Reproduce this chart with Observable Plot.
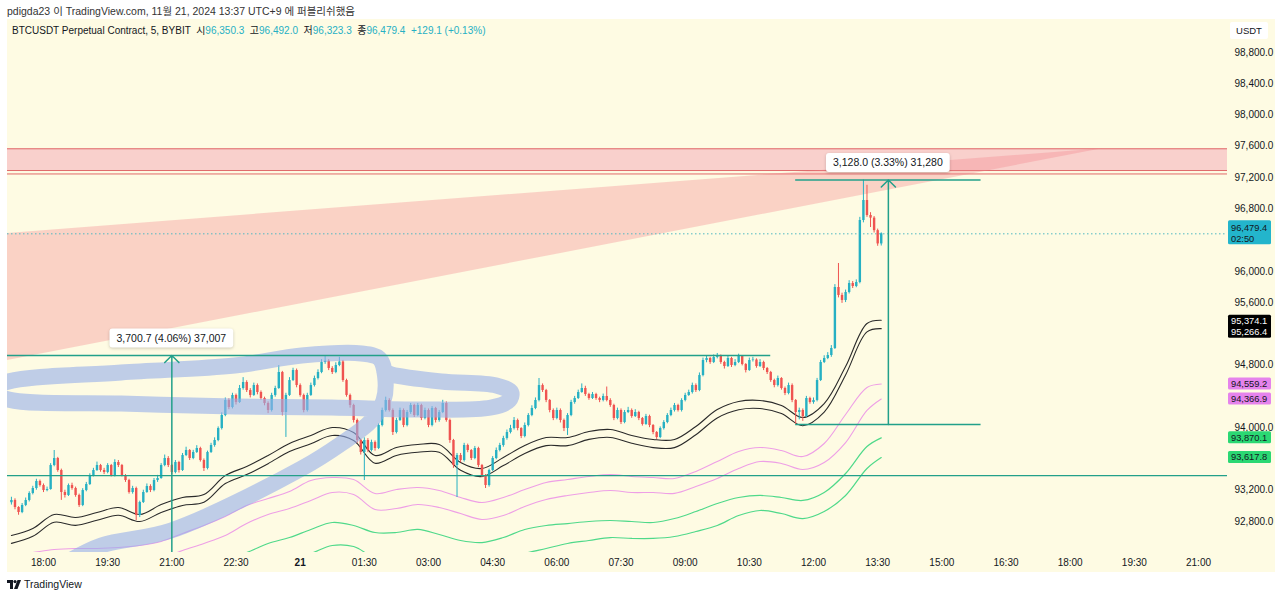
<!DOCTYPE html>
<html><head><meta charset="utf-8">
<script src="https://cdn.jsdelivr.net/npm/d3@7"></script>
<script src="https://cdn.jsdelivr.net/npm/@observablehq/plot@0.6"></script>
<style>
html,body{margin:0;padding:0;background:#fff;width:1280px;height:597px;overflow:hidden;font-family:"Liberation Sans","Noto Sans CJK KR",sans-serif;}
#wrap{position:relative;width:1280px;height:597px;}
#hdr{position:absolute;left:7px;top:3px;font-size:10.5px;color:#333;white-space:pre;}
#panel{position:absolute;left:7px;top:19px;width:1268px;height:553px;background:#fefbe3;}
#chart{position:absolute;left:0;top:19px;}
#legend{position:absolute;left:12px;top:22px;font-size:10px;color:#131722;white-space:pre;}
#legend .v{color:#26b0c3;}
#usdt{position:absolute;left:1230px;top:22px;width:38px;height:17px;background:#fff;border-radius:2px;font-size:9.5px;color:#131722;text-align:center;line-height:17px;}
#footer{position:absolute;left:7px;top:578px;font-size:10.5px;color:#131722;display:flex;align-items:center;gap:3px;}
</style></head>
<body><div id="wrap">
<div id="hdr">pdigda23 이 TradingView.com, 11월 21, 2024 13:37 UTC+9 에 퍼블리쉬했음</div>
<div id="panel"></div>
<div id="chart"></div>
<div id="legend"></div>
<div id="usdt">USDT</div>
<div id="footer"><svg width="14" height="9" viewBox="0 0 14 9"><path d="M0 0h6v9H3V3H0z" fill="#131722"/><circle cx="8" cy="1.6" r="1.6" fill="#131722"/><path d="M10.5 0H14l-3.5 9H7z" fill="#131722"/></svg><span>TradingView</span></div>
</div>
<script>
// ---------- data ----------
const symbolName = "BTCUSDT Perpetual Contract, 5, BYBIT";
const ohlcLabels = ["시", "고", "저", "종"];
const countdown = "02:50";
const candleStart = Date.UTC(2024, 10, 20, 17, 15);
const firstOpen = 93040;
const closes = [
93069,92979,92915,93005,93069,93158,93222,93312,93260,93196,
93209,93516,93606,93452,93171,93133,93260,93222,93133,93005,
93196,93273,93388,93452,93516,93452,93427,93516,93388,93555,
93516,93388,93324,93171,93222,92877,93043,93171,93248,93196,
93324,93350,93516,93606,93516,93427,93555,93452,93644,93708,
93606,93683,93734,93580,93478,93683,93772,93836,93989,94156,
94348,94258,94412,94322,94501,94578,94475,94412,94539,94450,
94373,94309,94220,94412,94501,94706,94194,94412,94603,94731,
94539,94412,94220,94412,94539,94629,94706,94834,94850,94757,
94706,94795,94840,94603,94412,94284,94092,93836,93683,93836,
93708,93810,93734,94028,94220,94348,94220,93938,94092,94220,
94028,94194,94284,94156,94284,94117,94220,94028,94245,94092,
94194,94309,94092,93836,93516,93644,93580,93772,93708,93606,
93734,93516,93388,93260,93452,93606,93708,93772,93862,93938,
93989,94092,93989,93887,94028,94156,94245,94348,94539,94475,
94348,94220,94117,94220,94092,93989,94156,94322,94373,94450,
94501,94424,94373,94424,94373,94348,94399,94348,94284,94117,
94220,94066,94194,94220,94143,94194,94117,94041,94143,94028,
93938,93874,93989,94066,94156,94220,94284,94220,94348,94412,
94450,94539,94475,94667,94859,94885,94834,94898,94910,94834,
94782,94885,94795,94834,94910,94808,94731,94859,94865,94782,
94834,94757,94706,94603,94539,94629,94501,94437,94539,94348,
94194,94220,94143,94373,94322,94348,94603,94834,94885,94923,
95013,95793,95691,95627,95729,95844,95806,95857,96650,96906,
96714,96680,96520,96350.3,96479.4];
const highs = [
93110,93090,92990,93030,93100,93180,93250,93340,93330,93280,
93240,93540,93708,93620,93470,93200,93280,93290,93240,93150,
93220,93300,93410,93480,93560,93530,93480,93540,93530,93590,
93580,93530,93400,93340,93250,93240,93060,93200,93280,93270,
93350,93390,93540,93650,93630,93530,93580,93570,93670,93750,
93720,93710,93770,93750,93600,93700,93800,93870,94010,94190,
94380,94370,94440,94430,94540,94640,94600,94500,94570,94560,
94470,94390,94330,94440,94530,94795,94720,94440,94640,94760,
94750,94560,94430,94440,94570,94660,94740,94870,94920,94870,
94780,94830,94900,94860,94620,94430,94300,94110,93850,93870,
93860,93840,93830,94050,94250,94390,94370,94240,94120,94250,
94240,94220,94310,94300,94310,94300,94250,94240,94270,94260,
94220,94350,94330,94110,93850,93670,93670,93800,93790,93720,
93760,93750,93530,93400,93470,93630,93740,93800,93890,93970,
94030,94130,94110,94000,94060,94180,94280,94380,94629,94560,
94490,94360,94240,94250,94240,94110,94180,94350,94400,94480,
94560,94530,94440,94450,94440,94390,94430,94520,94370,94300,
94250,94240,94220,94260,94240,94230,94210,94130,94170,94160,
94040,93950,94010,94090,94180,94250,94310,94300,94370,94440,
94480,94570,94560,94700,94890,94920,94900,94930,94949,94930,
94850,94910,94900,94870,94940,94920,94820,94890,94900,94880,
94870,94850,94770,94720,94620,94660,94640,94520,94570,94560,
94360,94250,94240,94400,94390,94380,94630,94860,94920,94960,
95050,95830,96100,95720,95760,95880,95870,95890,96690,97168,
97100,96750,96700,96540,96492.0];
const lows = [
93010,92950,92880,92900,92990,93050,93140,93200,93240,93170,
93180,93200,93500,93430,93070,93100,93120,93200,93110,92980,
92990,93180,93260,93370,93440,93430,93400,93410,93370,93370,
93490,93370,93300,93150,93150,92813,92850,93030,93160,93170,
93180,93300,93340,93500,93490,93400,93410,93420,93440,93630,
93580,93590,93670,93560,93440,93460,93670,93750,93820,93970,
94140,94230,94240,94290,94310,94480,94450,94380,94400,94420,
94350,94280,94180,94200,94390,94490,94150,93875,94400,94590,
94510,94390,94190,94200,94400,94520,94610,94690,94810,94730,
94680,94690,94780,94580,94390,94250,94060,93800,93650,93324,
93680,93690,93700,93720,94010,94200,94200,93900,93920,94080,
94000,94010,94170,94130,94140,94090,94100,94000,94010,94060,
94070,94180,94070,93800,93480,93107,93550,93560,93680,93580,
93590,93490,93360,93222,93240,93440,93590,93690,93750,93840,
93920,93970,93960,93860,93870,94010,94140,94230,94330,94450,
94320,94190,94090,94100,94060,93950,93900,94140,94300,94360,
94440,94400,94350,94360,94350,94320,94330,94330,94260,94090,
94100,94040,94050,94180,94120,94130,94090,94020,94030,94000,
93910,93850,93860,93970,94050,94140,94200,94200,94200,94330,
94400,94430,94450,94460,94650,94830,94810,94820,94880,94810,
94750,94770,94770,94780,94820,94790,94700,94720,94840,94760,
94770,94730,94680,94580,94510,94520,94480,94410,94420,94320,
94040,94100,94080,94130,94300,94300,94330,94590,94820,94870,
94900,95000,95660,95590,95600,95710,95780,95790,95840,96620,
96690,96560,96490,96320,96323.3];

// indicator bands sampled every 30 min from 17:15, last at 13:35
const bandStart = Date.UTC(2024, 10, 20, 17, 15);
const bandLast = "2024-11-21T13:35Z";
const blackUpper = [92621,92710,92890,92851,92915,92979,92890,93017,93107,93145,93388,93503,93644,93798,93900,94002,93938,93644,93746,93785,93785,93555,93478,93619,93772,93874,93874,93951,93977,93900,93849,93849,94015,94232,94335,94348,94284,94130,94309,94782,95332,95374.1];
const blackLower = [92520,92610,92790,92750,92815,92880,92800,92915,93005,93045,93285,93400,93540,93695,93795,93900,93835,93545,93645,93685,93685,93455,93375,93515,93670,93770,93770,93850,93875,93800,93745,93745,93910,94125,94230,94245,94180,94025,94200,94675,95225,95266.4];
const pinkUpper = [92365,92404,92442,92455,92455,92467,92493,92544,92647,92749,92864,93005,93094,93184,93324,93363,93337,93158,93209,93235,93196,93107,93043,93107,93209,93299,93337,93376,93401,93376,93363,93350,93440,93567,93695,93746,93708,93631,93798,94169,94514,94559.2];
const pinkLower = [92109,92148,92199,92224,92224,92237,92263,92327,92429,92519,92621,92774,92890,92966,93069,93171,93145,92953,92966,93017,92979,92902,92826,92877,92992,93081,93133,93171,93196,93171,93171,93160,93248,93350,93478,93567,93542,93465,93555,93810,94220,94366.9];
const greenUpper = [91790,91854,91917,91981,92045,92071,92109,92173,92224,92263,92327,92404,92519,92595,92698,92787,92749,92659,92659,92698,92634,92557,92531,92595,92698,92749,92774,92800,92813,92800,92787,92838,92928,93030,93107,93133,93107,93069,93171,93414,93759,93870.1];
const greenLower = [91534,91598,91662,91726,91790,91815,91854,91917,91981,92045,92109,92173,92237,92301,92391,92493,92480,92340,92352,92391,92391,92301,92263,92301,92391,92455,92519,92557,92595,92583,92583,92608,92672,92749,92877,92941,92902,92838,92928,93133,93478,93617.8];

// hand-drawn brush stroke (time, price)
const brushTimes = ["2024-11-20T18:25Z","2024-11-20T19:21Z","2024-11-20T20:59Z","2024-11-21T00:02Z","2024-11-21T00:58Z","2024-11-21T01:40Z","2024-11-21T01:57Z","2024-11-21T01:59Z","2024-11-21T01:51Z","2024-11-21T01:26Z","2024-11-21T00:02Z","2024-11-20T22:28Z","2024-11-20T19:49Z","2024-11-20T17:11Z","2024-11-20T16:47Z","2024-11-20T17:11Z","2024-11-20T19:49Z","2024-11-20T22:28Z","2024-11-21T00:44Z","2024-11-21T02:50Z","2024-11-21T04:28Z","2024-11-21T04:53Z","2024-11-21T04:56Z","2024-11-21T04:35Z","2024-11-21T03:18Z","2024-11-21T02:08Z","2024-11-21T01:58Z"];
const brushPrices = [92237,92493,92685,93478,93798,94092,94348,94667,94885,94949,94923,94795,94706,94591,94475,94360,94309,94271,94258,94232,94258,94348,94450,94539,94591,94680,94720];

// zone + wedge
const zoneTop = 97567, zoneBottom = 97289, zoneExtraLine = 97245;
const wedgeTimes = ["2024-11-20T17:09:30Z", "2024-11-21T18:45Z"];
const wedgeHigh = [96484, 97567];
const wedgeLow = [94859, 97567];

// measure tools & levels
const measureTimes = ["2024-11-20T21:00Z", "2024-11-21T13:45Z"];
const measureLow = [91222.3, 94040];
const measureHigh = [94923, 97168];
const measureStart = ["2024-11-20T17:09:30Z", "2024-11-21T11:35Z"];
const measureEnd = ["2024-11-21T11:00Z", "2024-11-21T15:55Z"];
const supportLevel = 93388;

// axes (labels hidden behind price-scale badges are left out)
const xTicks = ["2024-11-20T18:00Z","2024-11-20T19:30Z","2024-11-20T21:00Z","2024-11-20T22:30Z","2024-11-21T00:00Z","2024-11-21T01:30Z","2024-11-21T03:00Z","2024-11-21T04:30Z","2024-11-21T06:00Z","2024-11-21T07:30Z","2024-11-21T09:00Z","2024-11-21T10:30Z","2024-11-21T12:00Z","2024-11-21T13:30Z","2024-11-21T15:00Z","2024-11-21T16:30Z","2024-11-21T18:00Z","2024-11-21T19:30Z","2024-11-21T21:00Z"];
const yTicks = [92800,93200,94000,94800,95600,96000,96800,97200,97600,98000,98400,98800];
const xDomain = ["2024-11-20T17:09:30Z", "2024-11-21T21:40:40Z"];
const yDomain = [92403.5, 99220.6];

// ---------- build ----------
const UP = "#26b0c3", DOWN = "#ef5350", GREEN = "#22a08a";
const candles = closes.map((c, i) => ({
  t: new Date(candleStart + i * 300000),
  o: i ? closes[i - 1] : firstOpen, c, h: highs[i], l: lows[i]
}));
candles.forEach(d => d.col = d.c >= d.o ? UP : DOWN);
const bandTimes = d3.range(blackUpper.length - 1).map(k => new Date(bandStart + k * 1800000)).concat([new Date(bandLast)]);
const series = (arr) => arr.map((v, k) => ({t: bandTimes[k], v}));
const brush = brushTimes.map((t, k) => ({t: new Date(t), v: brushPrices[k]}));
const wedge = wedgeTimes.map((t, k) => ({t: new Date(t), lo: wedgeLow[k], hi: wedgeHigh[k]}));
const measures = measureTimes.map((t, k) => ({t: new Date(t), lo: measureLow[k], hi: measureHigh[k], s: new Date(measureStart[k]), e: new Date(measureEnd[k])}));
const X0 = new Date(xDomain[0]), X1 = new Date(xDomain[1]);
const fmt1 = d3.format(",.1f");
const fmtX = d => (d.getUTCHours() === 0 && d.getUTCMinutes() === 0) ? String(d.getUTCDate()) : d3.utcFormat("%H:%M")(d);
const last = candles[candles.length - 1];

const lineMark = (arr, stroke, w) => Plot.line(series(arr), {x: "t", y: "v", stroke, strokeWidth: w, curve: "catmull-rom", clip: true});

const chart = Plot.plot({
  width: 1280, height: 556,
  marginLeft: 7, marginRight: 53, marginTop: 0, marginBottom: 23,
  style: {background: "transparent", fontFamily: "Liberation Sans, Roboto, sans-serif", fontSize: "10px", color: "#131722"},
  x: {type: "utc", domain: [X0, X1], ticks: xTicks.map(d => new Date(d)), tickFormat: fmtX, tickSize: 0, tickPadding: 6, label: null},
  y: {domain: yDomain, axis: "right", ticks: yTicks, tickFormat: fmt1, tickSize: 0, tickPadding: 7, label: null},
  marks: [
    Plot.rect([{x1: X0, x2: X1, y1: zoneBottom, y2: zoneTop}], {x1: "x1", x2: "x2", y1: "y1", y2: "y2", fill: "#f9d0cc"}),
    Plot.ruleY([zoneTop, zoneBottom, zoneExtraLine], {stroke: "#e06a6a", strokeWidth: 1}),
    Plot.area(wedge, {x1: "t", y1: "lo", y2: "hi", fill: "#f3858e", fillOpacity: 0.34, clip: true}),
    Plot.ruleY([last.c], {stroke: "#4fb8c2", strokeWidth: 1, strokeDasharray: "1.5,2.5"}),
    lineMark(greenUpper, "#4fd98a", 1.2),
    lineMark(greenLower, "#4fd98a", 1.2),
    lineMark(pinkUpper, "#ee9fe6", 1.1),
    lineMark(pinkLower, "#ee9fe6", 1.1),
    lineMark(blackUpper, "#2a2a2a", 1.1),
    lineMark(blackLower, "#2a2a2a", 1.1),
    Plot.ruleX(candles, {x: "t", y1: "l", y2: "h", stroke: "col", strokeWidth: 1}),
    Plot.ruleX(candles, {x: "t", y1: "o", y2: "c", stroke: "col", strokeWidth: 2.4}),
    Plot.line(brush, {x: "t", y: "v", stroke: "#98b0ea", strokeOpacity: 0.62, strokeWidth: 16, strokeLinecap: "round", strokeLinejoin: "round", curve: "catmull-rom", clip: true}),
    Plot.ruleY(measures, {y: "hi", x1: "s", x2: "e", stroke: GREEN, strokeWidth: 1.5, clip: true}),
    Plot.ruleY(measures.slice(1), {y: "lo", x1: "s", x2: "e", stroke: GREEN, strokeWidth: 1.5, clip: true}),
    Plot.ruleY([supportLevel], {stroke: GREEN, strokeWidth: 1.2}),
    Plot.arrow(measures, {x1: "t", x2: "t", y1: "lo", y2: "hi", stroke: GREEN, strokeWidth: 1.5, headLength: 10, headAngle: 90, clip: true})
  ]
});
document.getElementById("chart").appendChild(chart);

// bold day label
d3.select(chart).selectAll("text").filter(function () { return this.textContent === "21"; }).attr("font-weight", "bold");

const xs = chart.scale("x"), ys = chart.scale("y");
const fx = xs.apply ? (v => xs.apply(v)) : d3.scaleUtc(xs.domain, xs.range);
const fy = ys.apply ? (v => ys.apply(v)) : d3.scaleLinear(ys.domain, ys.range);
const g = d3.select(chart).append("g").attr("font-family", "Liberation Sans, Roboto, sans-serif");

// measure labels
measures.forEach(m => {
  const diff = m.hi - m.lo;
  const label = `${fmt1(diff)} (${d3.format(".2f")(diff / m.lo * 100)}%) ${d3.format(",")(Math.round(diff * 10))}`;
  const cx = fx(m.t), cy = fy(m.hi) - 17;
  const r = g.append("rect").attr("fill", "#fff").attr("rx", 3).style("filter", "drop-shadow(0 1px 1.5px rgba(0,0,0,0.2))");
  const t = g.append("text").attr("x", cx).attr("y", cy).attr("dy", "0.35em").attr("text-anchor", "middle").attr("font-size", 10.5).attr("fill", "#131722").text(label);
  const w = t.node().getComputedTextLength() + 14;
  r.attr("x", cx - w / 2).attr("y", cy - 9.5).attr("width", w).attr("height", 19);
});

// price scale labels
const boxX = 1228, boxW = 43, txtX = 1231;
function box(y, h, fill) { g.append("rect").attr("x", boxX).attr("y", y).attr("width", boxW).attr("height", h).attr("rx", 1.5).attr("fill", fill); }
function txt(y, s, color) { g.append("text").attr("x", txtX).attr("y", y).attr("dy", "0.35em").attr("text-anchor", "start").attr("font-size", 9.3).attr("fill", color).text(s); }
const yc = fy(last.c);
box(yc - 13, 24, "#23b5cc"); txt(yc - 6, fmt1(last.c), "#131722"); txt(yc + 5, countdown, "#131722");
const yb = fy(blackUpper[blackUpper.length - 1]);
box(yb - 5, 23, "#000"); txt(yb + 1, fmt1(blackUpper[blackUpper.length - 1]), "#fff"); txt(yb + 12, fmt1(blackLower[blackLower.length - 1]), "#fff");
[[pinkUpper, "#e583ec"], [pinkLower, "#e583ec"], [greenUpper, "#2bd873"], [greenLower, "#2bd873"]].forEach(([arr, col]) => {
  const v = arr[arr.length - 1], y = fy(v);
  box(y - 6, 12, col); txt(y, fmt1(v), "#131722");
});

// legend
const prevClose = candles[candles.length - 2].c;
const chg = last.c - prevClose;
const vals = [last.o, last.h, last.l, last.c].map(fmt1);
document.getElementById("legend").innerHTML =
  symbolName + "  " + ohlcLabels.map((l, i) => `${l}<span class="v">${vals[i]}</span>`).join("  ") +
  `  <span class="v">${chg >= 0 ? "+" : ""}${fmt1(chg)} (${chg >= 0 ? "+" : ""}${d3.format(".2f")(chg / prevClose * 100)}%)</span>`;
</script>
</body></html>
